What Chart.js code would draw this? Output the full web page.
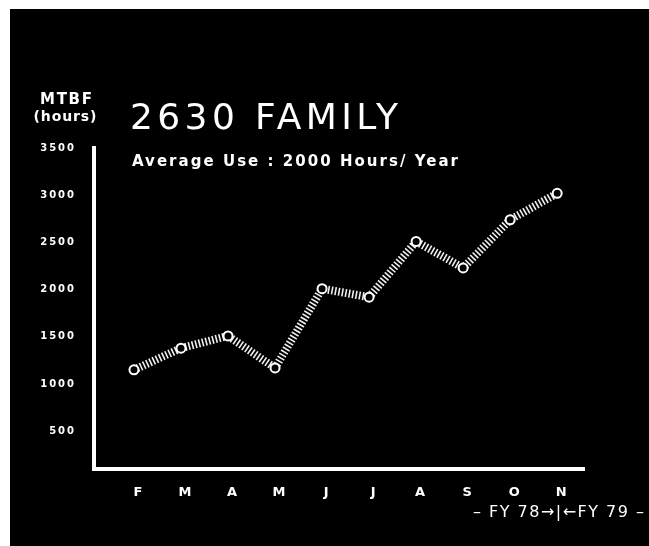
<!DOCTYPE html>
<html><head><meta charset="utf-8">
<script src="https://cdn.jsdelivr.net/npm/chart.js@4"></script>
<style>html,body{margin:0;padding:0;background:#000;overflow:hidden}#wrap{width:649px;height:546px;position:relative}canvas{display:block}</style>
</head><body><div id="wrap"><canvas id="c" width="649" height="546" style="width:649px;height:546px"></canvas></div>
<script>
const months = ['F','M','A','M','J','J','A','S','O','N'];
const mtbf = [1150,1380,1510,1170,2010,1920,2510,2230,2740,3020];
const yTicks = [500,1000,1500,2000,2500,3000,3500];
const titleText = '2630 FAMILY';
const subtitleText = 'Average Use : 2000 Hours/ Year';
const yTitleLines = ['MTBF','(hours)'];
const fyNote = '– FY 78→|←FY 79 –';

function fitText(ctx, text, x, y, font, width, align) {
  ctx.font = font;
  ctx.letterSpacing = '0px';
  const w = ctx.measureText(text).width;
  const ls = text.length > 1 ? (width - w) / (text.length - 1) : 0;
  ctx.letterSpacing = ls + 'px';
  ctx.textAlign = 'left';
  let x0 = x;
  if (align === 'center') x0 = x - width / 2;
  ctx.fillText(text, x0, y);
}

const decor = {
  id: 'decor',
  beforeDraw(chart) {
    const ctx = chart.ctx;
    ctx.save();
    ctx.fillStyle = '#000';
    ctx.fillRect(0, 0, 3000, 3000);
    ctx.fillStyle = '#fff';
    ctx.fillRect(0, 0, 3000, 9);
    ctx.fillRect(0, 0, 10, 3000);
    ctx.restore();
    ctx.letterSpacing = '2px';
  },
  beforeDatasetsDraw(chart) {
    chart.ctx.letterSpacing = '0px';
  },
  afterDraw(chart) {
    const ctx = chart.ctx;
    ctx.save();
    ctx.fillStyle = '#fff';
    ctx.textBaseline = 'alphabetic';
    fitText(ctx, titleText, 130, 129, 'normal 36px "DejaVu Sans"', 268);
    fitText(ctx, subtitleText, 132, 166, 'bold 15px "DejaVu Sans"', 326);
    fitText(ctx, yTitleLines[0], 66, 104, 'bold 15px "DejaVu Sans"', 52, 'center');
    fitText(ctx, yTitleLines[1], 65, 121, 'bold 14px "DejaVu Sans"', 63, 'center');
    fitText(ctx, fyNote, 473, 517, 'normal 16px "DejaVu Sans"', 171);
    ctx.restore();
    ctx.letterSpacing = '0px';
  }
};

new Chart(document.getElementById('c'), {
  type: 'line',
  data: {
    datasets: [{
      data: mtbf.map((v, i) => ({x: i, y: v})),
      borderColor: '#f0f0f0',
      borderWidth: 8,
      borderDash: [1.6, 1.9],
      borderCapStyle: 'butt',
      tension: 0,
      pointRadius: 4.5,
      pointBorderWidth: 2,
      pointBorderColor: '#ffffff',
      pointBackgroundColor: '#000000',
      clip: false
    }]
  },
  options: {
    responsive: false,
    animation: false,
    events: [],
    layout: {padding: {top: 148, right: 65, left: 0, bottom: 0}},
    plugins: {legend: {display: false}, tooltip: {enabled: false}, title: {display: false}},
    scales: {
      x: {
        type: 'linear', min: -0.85, max: 9.57,
        grid: {display: false, drawTicks: false},
        border: {color: '#ffffff', width: 4},
        afterBuildTicks(s) { s.ticks = months.map((m, i) => ({value: i})); },
        ticks: {
          color: '#ffffff', autoSkip: false, maxRotation: 0, padding: 16, labelOffset: 5,
          font: {family: 'DejaVu Sans', weight: 'bold', size: 13},
          callback: (v) => months[v]
        },
        afterFit(s) { s.height = 77; }
      },
      y: {
        min: 100, max: 3500,
        grid: {display: false, drawTicks: false},
        border: {color: '#ffffff', width: 4},
        afterBuildTicks(s) { s.ticks = yTicks.map(v => ({value: v})); },
        ticks: {
          color: '#ffffff', padding: 18,
          font: {family: 'DejaVu Sans', weight: 'bold', size: 10},
          callback: (v) => String(v)
        },
        afterFit(s) { s.width = 94; }
      }
    }
  },
  plugins: [decor]
});
</script>
</body></html>
